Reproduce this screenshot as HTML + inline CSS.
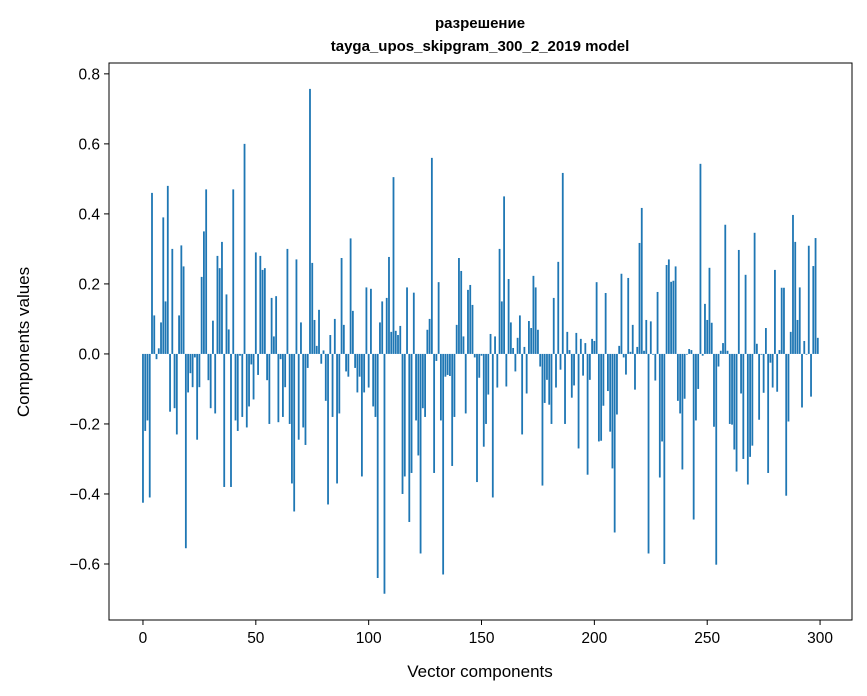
<!DOCTYPE html>
<html><head><meta charset="utf-8"><style>
body{margin:0;background:#fff;}
svg{display:block;font-family:"Liberation Sans","DejaVu Sans",sans-serif;}
</style></head><body>
<svg id="chart" width="867" height="696" viewBox="0 0 867 696">
<rect width="867" height="696" fill="#fff"/>
<text x="480" y="28" text-anchor="middle" font-size="15" font-weight="bold">разрешение</text>
<text x="480" y="51" text-anchor="middle" font-size="15" font-weight="bold">tayga_upos_skipgram_300_2_2019 model</text>
<g id="bars"></g>
<g id="xticks"></g>
<g id="yticks"></g>
<rect x="109" y="63" width="743" height="557" fill="none" stroke="#000" stroke-width="1"/>
<text x="480" y="677" text-anchor="middle" font-size="17">Vector components</text>
<text transform="translate(29,342) rotate(-90)" text-anchor="middle" font-size="17">Components values</text>
</svg>
<script>
const values = [
-0.425,-0.22,-0.19,-0.41,0.46,0.11,-0.015,0.016,0.09,0.39,
0.15,0.48,-0.165,0.30,-0.155,-0.23,0.11,0.31,0.25,-0.555,
-0.11,-0.055,-0.095,-0.01,-0.245,-0.095,0.22,0.35,0.47,-0.075,
-0.155,0.095,-0.17,0.28,0.245,0.32,-0.38,0.17,0.07,-0.38,
0.47,-0.19,-0.22,-0.005,-0.18,0.60,-0.21,-0.15,-0.03,-0.13,
0.29,-0.06,0.28,0.24,0.245,-0.075,-0.20,0.16,0.05,0.165,
-0.195,-0.015,-0.18,-0.095,0.30,-0.20,-0.37,-0.45,0.27,-0.245,
0.09,-0.21,-0.26,-0.04,0.757,0.26,0.097,0.023,0.126,-0.028,
0.01,-0.134,-0.43,0.054,-0.18,0.10,-0.37,-0.17,0.274,0.083,
-0.05,-0.065,0.33,0.123,-0.04,-0.11,-0.065,-0.35,-0.11,0.19,
-0.096,0.186,-0.15,-0.18,-0.64,0.09,0.15,-0.685,0.16,0.277,
0.063,0.505,0.066,0.054,0.08,-0.40,-0.35,0.19,-0.48,-0.34,
0.175,-0.19,-0.29,-0.57,-0.155,-0.18,0.069,0.10,0.56,-0.34,
-0.02,0.205,-0.19,-0.63,-0.065,-0.06,-0.063,-0.32,-0.18,0.083,
0.274,0.237,0.05,-0.17,0.183,0.197,0.14,-0.01,-0.366,-0.068,
-0.005,-0.265,-0.20,-0.116,0.057,-0.41,0.05,-0.096,0.30,0.15,
0.45,-0.093,0.214,0.09,0.017,-0.05,0.046,0.11,-0.23,0.02,
-0.113,0.094,0.074,0.223,0.19,0.069,-0.036,-0.376,-0.14,-0.074,
-0.145,-0.20,0.16,-0.096,0.263,-0.045,0.517,-0.20,0.063,0.011,
-0.125,-0.09,0.06,-0.27,0.043,-0.062,0.031,-0.345,-0.074,0.043,
0.037,0.205,-0.25,-0.248,-0.148,0.174,-0.106,-0.222,-0.327,-0.51,
-0.173,0.023,0.229,-0.01,-0.059,0.217,0.006,0.083,-0.102,0.02,
0.317,0.417,0.009,0.097,-0.57,0.093,-0.002,-0.076,0.177,-0.353,
-0.25,-0.6,0.254,0.27,0.206,0.209,0.25,-0.134,-0.17,-0.33,
-0.128,-0.002,0.014,0.011,-0.473,-0.19,-0.1,0.543,-0.005,0.143,
0.097,0.246,0.089,-0.208,-0.602,-0.036,0.009,0.031,0.369,0.009,
-0.2,-0.202,-0.273,-0.336,0.297,-0.113,-0.30,0.226,-0.373,-0.294,
-0.262,0.346,0.029,-0.188,-0.002,-0.111,0.074,-0.34,-0.025,-0.096,
0.24,-0.108,0.011,0.189,0.189,-0.405,-0.193,0.063,0.397,0.32,
0.097,0.19,-0.153,0.037,-0.002,0.309,-0.122,0.251,0.331,0.046
];
const xTicks = [0,50,100,150,200,250,300];
const yTicks = [-0.6,-0.4,-0.2,0.0,0.2,0.4,0.6,0.8];
const yTickLabels = ["\u22120.6","\u22120.4","\u22120.2","0.0","0.2","0.4","0.6","0.8"];

const X0=109,X1=852,Y0=63,Y1=620;
const xMin=-15.05,xMax=314.15,yMin=-0.76,yMax=0.831;
const xs=v=>X0+(v-xMin)/(xMax-xMin)*(X1-X0);
const ys=v=>Y1-(v-yMin)/(yMax-yMin)*(Y1-Y0);
const NS="http://www.w3.org/2000/svg";
const bars=document.getElementById('bars');
values.forEach((v,i)=>{
  const r=document.createElementNS(NS,'rect');
  const x=xs(i-0.4),w=xs(i+0.4)-x;
  const y=Math.min(ys(v),ys(0)),h=Math.abs(ys(v)-ys(0));
  r.setAttribute('x',x);r.setAttribute('y',y);
  r.setAttribute('width',w);r.setAttribute('height',Math.max(h,0.3));
  r.setAttribute('fill','#1f77b4');
  
  
  bars.appendChild(r);
});
const xg=document.getElementById('xticks');
xTicks.forEach(t=>{
  const l=document.createElementNS(NS,'line');
  l.setAttribute('x1',xs(t));l.setAttribute('x2',xs(t));
  l.setAttribute('y1',Y1);l.setAttribute('y2',Y1+5);l.setAttribute('stroke','#000');
  
  
  xg.appendChild(l);
  const tx=document.createElementNS(NS,'text');
  tx.setAttribute('x',xs(t));tx.setAttribute('y',Y1+23);
  tx.setAttribute('text-anchor','middle');tx.setAttribute('font-size','15.5');
  tx.textContent=t;
  
  
  xg.appendChild(tx);
});
const yg=document.getElementById('yticks');
yTicks.forEach((t,k)=>{
  const l=document.createElementNS(NS,'line');
  l.setAttribute('x1',X0-5);l.setAttribute('x2',X0);
  l.setAttribute('y1',ys(t));l.setAttribute('y2',ys(t));l.setAttribute('stroke','#000');
  
  
  yg.appendChild(l);
  const tx=document.createElementNS(NS,'text');
  tx.setAttribute('x',X0-9);tx.setAttribute('y',ys(t)+5.5);
  tx.setAttribute('text-anchor','end');tx.setAttribute('font-size','15.5');
  tx.textContent=yTickLabels[k];
  
  
  yg.appendChild(tx);
});
</script>
</body></html>
